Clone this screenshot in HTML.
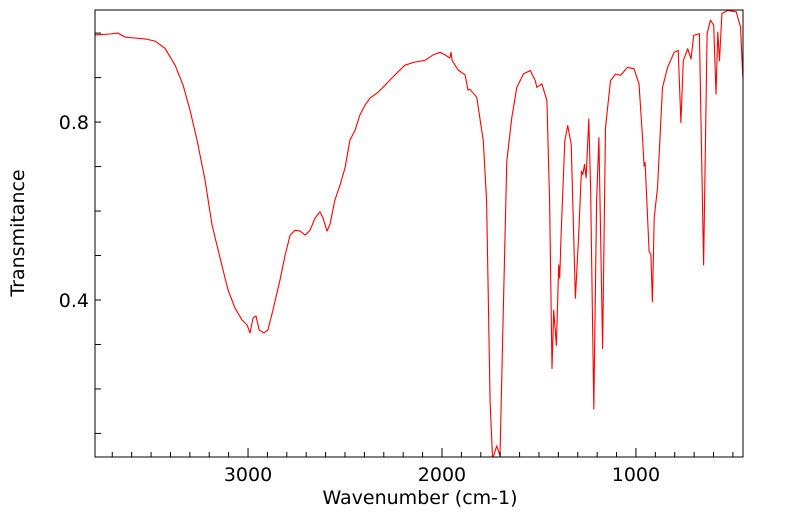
<!DOCTYPE html>
<html><head><meta charset="utf-8"><style>
body{margin:0;background:#fff}
svg{display:block;font-family:"DejaVu Sans","Liberation Sans",sans-serif}
</style></head><body>
<svg id="chart" width="799" height="516" xmlns="http://www.w3.org/2000/svg"></svg>
<script>
const wavenumbers=[3789,3711,3670,3634,3583,3531,3479,3428,3376,3335,3299,3263,3222,3186,3144,3103,3067,3031,3005,2990,2974,2959,2943,2918,2897,2871,2835,2809,2783,2758,2732,2706,2680,2655,2629,2613,2593,2577,2552,2526,2500,2474,2448,2423,2397,2371,2330,2294,2242,2191,2139,2088,2046,2010,1984,1959,1953,1948,1917,1881,1866,
1856,1821,1787,1770,1752,1739,1718,1701,1683,1666,1640,1614,1580,1545,1519,1511,1485,1459,1445,1433,1424,1410,1398,1393,1386,1367,1352,1334,1312,1295,1281,1274,1265,1257,1243,1234,1217,1203,1191,1172,1157,1131,1105,1079,1044,1010,984,967,958,953,932,923,915,906,889,863,837,803,782,768,756,733,716,702,673,651,633,616,599,587,578,569,557,526,483,461,449];
const transmittance=[0.996,0.998,1.0,0.991,0.989,0.987,0.982,0.966,0.928,0.883,0.827,0.760,0.670,0.569,0.494,0.422,0.382,0.355,0.344,0.326,0.360,0.364,0.333,0.326,0.333,0.378,0.445,0.501,0.546,0.557,0.555,0.546,0.557,0.584,0.598,0.584,0.555,0.571,0.625,0.658,0.697,0.760,0.782,0.816,0.838,0.854,0.867,0.883,0.906,0.928,0.935,0.939,0.951,0.957,0.951,0.944,0.957,0.939,0.917,0.906,0.872,
0.874,0.856,0.758,0.622,0.170,0.042,0.072,0.050,0.396,0.713,0.810,0.878,0.908,0.916,0.893,0.878,0.886,0.848,0.622,0.246,0.377,0.298,0.479,0.449,0.547,0.758,0.792,0.750,0.404,0.547,0.690,0.682,0.705,0.675,0.807,0.652,0.155,0.622,0.765,0.291,0.788,0.893,0.908,0.905,0.923,0.920,0.886,0.773,0.701,0.709,0.509,0.502,0.396,0.585,0.652,0.878,0.923,0.957,0.961,0.799,0.938,0.965,0.942,0.995,0.999,0.479,0.999,1.029,1.018,0.863,1.002,0.938,1.044,1.051,1.048,1.014,0.901];
const xMajorTicks=[3000,2000,1000];
const yMajorTicks=[0.4,0.8];
const xDomain=[3789,448], yDomain=[0.047,1.052];
const L=95,R=743,T=10,B=457;
const sx=v=>L+(v-xDomain[0])/(xDomain[1]-xDomain[0])*(R-L);
const sy=v=>B-(v-yDomain[0])/(yDomain[1]-yDomain[0])*(B-T);
const svg=document.getElementById('chart');
const NS='http://www.w3.org/2000/svg';
function mk(tag,attrs){const e=document.createElementNS(NS,tag);for(const k in attrs)e.setAttribute(k,attrs[k]);svg.appendChild(e);return e;}
const defs=mk('defs',{});
const cp=document.createElementNS(NS,'clipPath');cp.setAttribute('id','clip');
const cr=document.createElementNS(NS,'rect');cr.setAttribute('x',L);cr.setAttribute('y',T);cr.setAttribute('width',R-L);cr.setAttribute('height',B-T);
cp.appendChild(cr);defs.appendChild(cp);
let d='';
wavenumbers.forEach((w,i)=>{d+=(i?'L':'M')+sx(w).toFixed(1)+','+sy(transmittance[i]).toFixed(1);});
const line=mk('path',{d:d,fill:'none',stroke:'#ff0000','stroke-width':1.1,'stroke-linejoin':'round','clip-path':'url(#clip)'});


const frame=mk('rect',{x:L,y:T,width:R-L,height:B-T,fill:'none',stroke:'#000','stroke-width':1});


for(let w=3700;w>=500;w-=100){
  const x=sx(w),maj=(w%1000===0);
  const t=mk('line',{x1:x,x2:x,y1:B,y2:B-(maj?9:5),stroke:'#000','stroke-width':1});
  
  
}
xMajorTicks.forEach(w=>{
  const t=mk('text',{x:sx(w),y:481,'text-anchor':'middle','font-size':19});
  t.textContent=w;
  
  
});
for(let k=1;k<=10;k++){
  const v=k/10,y=sy(v);
  const t=mk('line',{x1:L,x2:L+6,y1:y,y2:y,stroke:'#000','stroke-width':1});
  
  
}
yMajorTicks.forEach(v=>{
  const t=mk('text',{x:89,y:sy(v)+7,'text-anchor':'end','font-size':19});
  t.textContent=v.toFixed(1);
  
  
});
const xt=mk('text',{x:420,y:504,'text-anchor':'middle','font-size':19});
xt.textContent='Wavenumber (cm-1)';


const yt=mk('text',{x:0,y:0,'text-anchor':'middle','font-size':19,transform:'translate(24,233) rotate(-90)'});
yt.textContent='Transmitance';


</script>
</body></html>
